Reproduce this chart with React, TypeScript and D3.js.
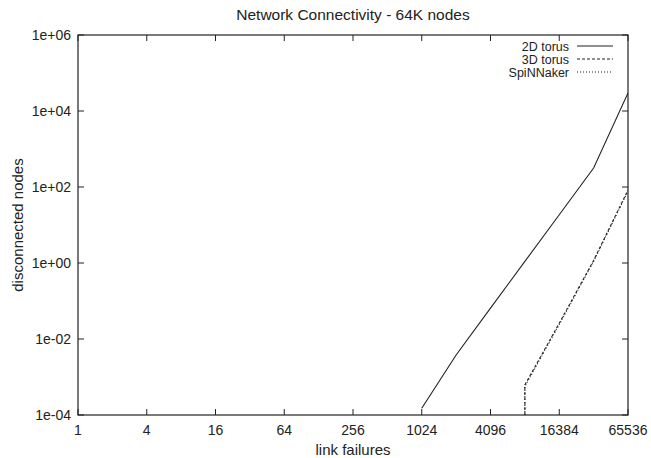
import React, { useEffect, useRef } from 'react';
import * as d3 from 'd3';

// link failures (x) and disconnected nodes (y)
const xTicks = [1, 4, 16, 64, 256, 1024, 4096, 16384, 65536];
const yTicks = [1e-4, 1e-2, 1, 1e2, 1e4, 1e6];
const yTickLabels = ['1e-04', '1e-02', '1e+00', '1e+02', '1e+04', '1e+06'];

const torus2dX = [1024, 2048, 4096, 8192, 16384, 32768, 65536];
const torus2dY = [1.5e-4, 0.0038, 0.065, 1.1, 18.6, 316, 29700];

const torus3dX = [8192, 8192, 16384, 32768, 65536];
const torus3dY = [0, 6.2e-4, 0.026, 1.17, 83];

const spinnX = [8192, 8192, 16384, 32768, 65536];
const spinnY = [0, 5.6e-4, 0.024, 1.1, 78];

const seriesNames = ['2D torus', '3D torus', 'SpiNNaker'];
const dashes = [null, '3,2', '1,2'];

const W = 651;
const H = 458;
const margin = { top: 35, right: 23, bottom: 43, left: 78 };
const font = 'Liberation Sans, Arial, Helvetica, sans-serif';

const App = () => {
  const svgRef = useRef<SVGSVGElement>(null);

  useEffect(() => {
    const svg = d3.select(svgRef.current);
    svg.selectAll('*').remove();

    const width = W - margin.left - margin.right;
    const height = H - margin.top - margin.bottom;

    const x = d3.scaleLog().base(2).domain([1, 65536]).range([0, width]);
    const y = d3.scaleLog().domain([1e-4, 1e6]).range([height, 0]);

    svg.append('rect').attr('width', W).attr('height', H).attr('fill', '#fff');

    svg.append('text')
      .attr('x', margin.left + width / 2)
      .attr('y', 20)
      .attr('text-anchor', 'middle')
      .style('font-family', font)
      .style('font-size', '15.5px')
      .attr('fill', '#222')
      .text('Network Connectivity - 64K nodes');

    const g = svg.append('g')
      .attr('transform', `translate(${margin.left},${margin.top})`);

    g.append('clipPath').attr('id', 'plot-clip')
      .append('rect').attr('width', width).attr('height', height);

    // ticks, inward on all four sides
    const tl = 6;
    xTicks.forEach(t => {
      const px = x(t);
      g.append('line').attr('x1', px).attr('x2', px).attr('y1', height).attr('y2', height - tl)
        .attr('stroke', '#222');
      g.append('line').attr('x1', px).attr('x2', px).attr('y1', 0).attr('y2', tl)
        .attr('stroke', '#222');
      g.append('text')
        .attr('x', px)
        .attr('y', height + 20)
        .attr('text-anchor', 'middle')
        .style('font-family', font)
        .style('font-size', '14px')
        .attr('fill', '#222')
        .text(String(t));
    });
    yTicks.forEach((t, i) => {
      const py = y(t);
      g.append('line').attr('x1', 0).attr('x2', tl).attr('y1', py).attr('y2', py)
        .attr('stroke', '#222');
      g.append('line').attr('x1', width).attr('x2', width - tl).attr('y1', py).attr('y2', py)
        .attr('stroke', '#222');
      g.append('text')
        .attr('x', -7)
        .attr('y', py + 5)
        .attr('text-anchor', 'end')
        .style('font-family', font)
        .style('font-size', '14px')
        .attr('fill', '#222')
        .text(yTickLabels[i]);
    });

    g.append('rect')
      .attr('width', width)
      .attr('height', height)
      .attr('fill', 'none')
      .attr('stroke', '#222')
      .attr('stroke-width', 1.2);

    const line = d3.line<[number, number]>()
      .x(d => x(d[0]))
      .y(d => (d[1] > 0 ? y(d[1]) : height));

    const series = [
      d3.zip(torus2dX, torus2dY),
      d3.zip(torus3dX, torus3dY),
      d3.zip(spinnX, spinnY),
    ];

    series.forEach((s, i) => {
      const p = g.append('path')
        .datum(s as [number, number][])
        .attr('d', line)
        .attr('fill', 'none')
        .attr('stroke', '#222')
        .attr('stroke-width', 1.1)
        .attr('clip-path', 'url(#plot-clip)');
      if (dashes[i]) p.attr('stroke-dasharray', dashes[i]);
    });

    // legend
    seriesNames.forEach((name, i) => {
      const ly = 11 + i * 13;
      g.append('text')
        .attr('x', width - 59)
        .attr('y', ly + 4.5)
        .attr('text-anchor', 'end')
        .style('font-family', font)
        .style('font-size', '12.5px')
        .attr('fill', '#222')
        .text(name);
      const l = g.append('line')
        .attr('x1', width - 51)
        .attr('x2', width - 15)
        .attr('y1', ly)
        .attr('y2', ly)
        .attr('stroke', '#222')
        .attr('stroke-width', 1.1);
      if (dashes[i]) l.attr('stroke-dasharray', dashes[i]);
    });

    svg.append('text')
      .attr('x', margin.left + width / 2)
      .attr('y', H - 3)
      .attr('text-anchor', 'middle')
      .style('font-family', font)
      .style('font-size', '15px')
      .attr('fill', '#222')
      .text('link failures');

    svg.append('text')
      .attr('transform', `translate(23,${margin.top + height / 2}) rotate(-90)`)
      .attr('text-anchor', 'middle')
      .style('font-family', font)
      .style('font-size', '15px')
      .attr('fill', '#222')
      .text('disconnected nodes');
  }, []);

  return (
    <svg
      ref={svgRef}
      width={W}
      height={H}
      style={{ position: 'absolute', left: 0, top: 0 }}
    />
  );
};

export default App;
